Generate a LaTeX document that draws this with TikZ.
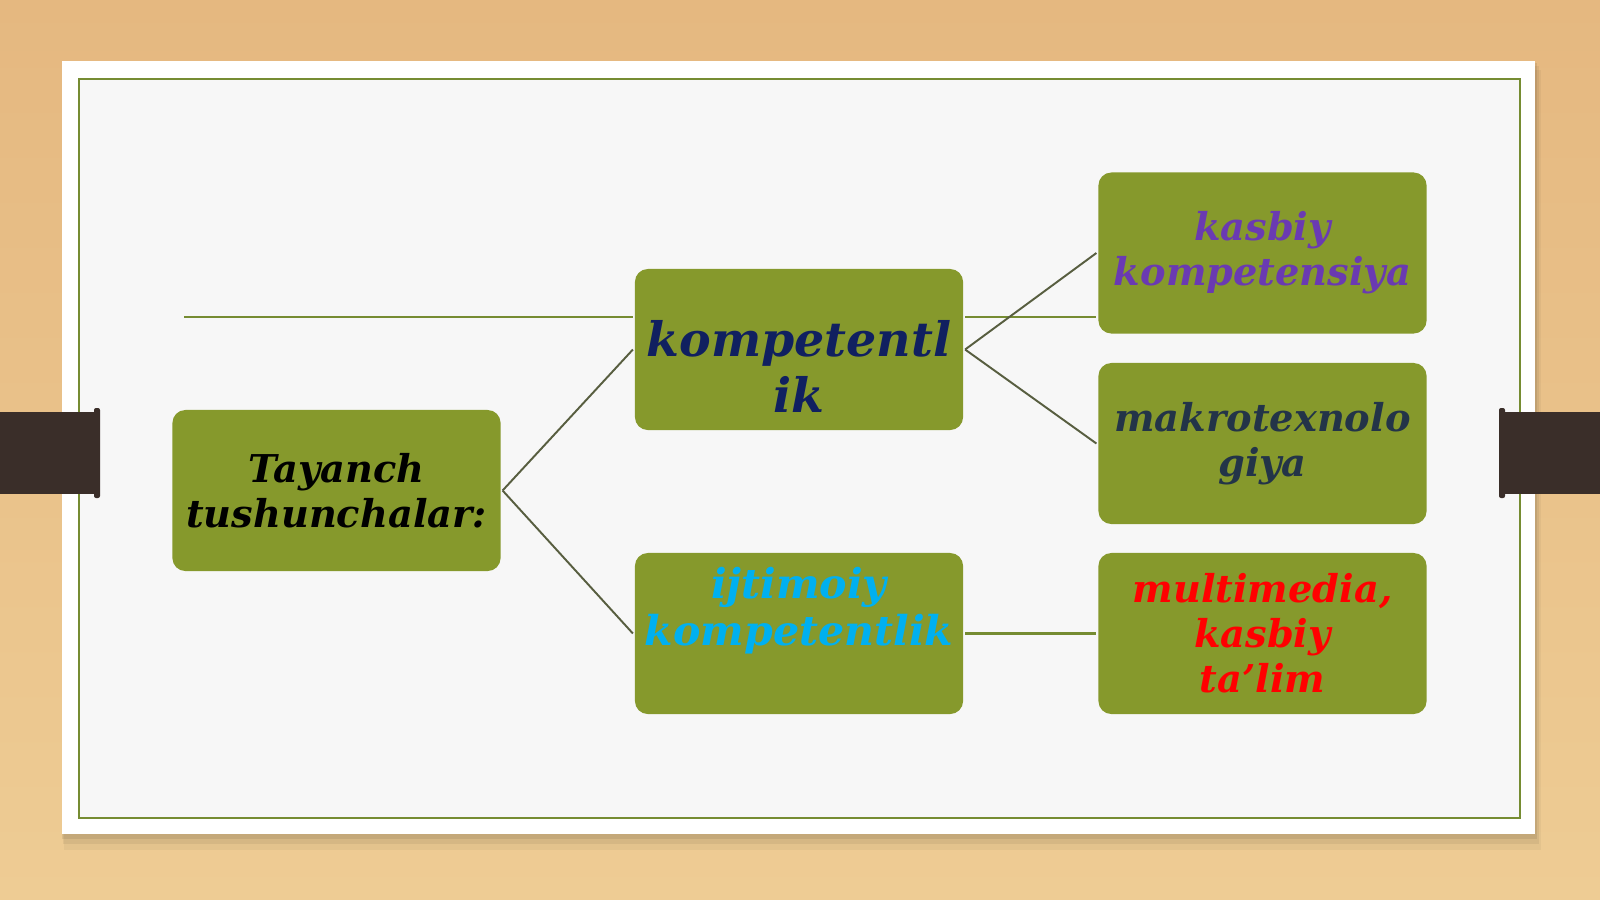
\documentclass[tikz,border=0pt]{standalone}
\usepackage{fontspec}
\newfontfamily\boxfont{DejaVu Serif}
\definecolor{woodtop}{RGB}{229,184,128}
\definecolor{woodbottom}{RGB}{238,204,148}
\definecolor{tabbrown}{RGB}{58,46,41}
\definecolor{framegreen}{RGB}{118,140,50}
\definecolor{boxgreen}{RGB}{134,153,44}
\definecolor{linkgray}{RGB}{88,94,64}
\definecolor{navytext}{RGB}{16,32,96}
\definecolor{cyantext}{RGB}{0,176,240}
\definecolor{purpletext}{RGB}{106,58,178}
\definecolor{slatetext}{RGB}{35,52,72}

\begin{document}
\begin{tikzpicture}[x=0.01cm, y=-0.01cm,
    box/.style={fill=boxgreen, rounded corners=0.13cm, minimum width=3.28cm,
        minimum height=1.61cm, outer sep=0.02cm, align=center,
        font=\boxfont\bfseries\itshape\fontsize{10.9}{12.8}\selectfont},
    link/.style={draw=linkgray, line width=0.55pt},
    hrule/.style={draw=framegreen, line width=0.6pt}]
    \useasboundingbox (0,0) rectangle (1600,899);
    \shade[top color=woodtop, bottom color=woodbottom] (0,0) rectangle (1600,899);
    \fill[black, opacity=0.04] (64,70) rectangle (1541,850);
    \fill[black, opacity=0.06] (63,66) rectangle (1539,844);
    \fill[black, opacity=0.08] (62,63) rectangle (1537,839);
    \fill[white] (62,61) rectangle (1535,834);
    \fill[black!3] (79,79) rectangle (1520,818);
    \draw[framegreen, line width=0.6pt] (79,79) rectangle (1520,818);
    \fill[tabbrown] (0,412) rectangle (99,494);
    \fill[tabbrown, rounded corners=0.02cm] (94,408) rectangle (100,498);
    \fill[tabbrown] (1500,412) rectangle (1600,494);
    \fill[tabbrown, rounded corners=0.02cm] (1499,408) rectangle (1505,498);

    \node[box] (tayanch) at (336.5,490.5) {Tayanch\\tushunchalar:};
    \node[box, label={[font=\boxfont\bfseries\itshape\fontsize{13.5}{15.9}\selectfont,
        text=navytext, align=center, yshift=-0.17cm]center:kompetentl\\ik}] (komp) at (799,349.5) {};
    \node[box, label={[font=\boxfont\bfseries\itshape\fontsize{11.7}{13.4}\selectfont,
        text=cyantext, align=center, yshift=0.23cm]center:ijtimoiy\\kompetentlik}] (ijtimoiy) at (799,633.5) {};
    \node[box, text=purpletext] (kasbiy) at (1262.5,253) {kasbiy\\kompetensiya};
    \node[box, text=slatetext] (makro) at (1262.5,443.5) {makrotexnolo\\giya};
    \node[box, text=red] (multimedia) at (1262.5,633.5) {multimedia,\\kasbiy\\ta’lim};

    \coordinate (hstart) at (184,317);
    \draw[hrule] (hstart) -- (hstart -| komp.west);
    \draw[hrule] (hstart -| komp.east) -- (hstart -| kasbiy.west);
    \draw[hrule] (ijtimoiy.east) -- (multimedia.west);
    \draw[link] (tayanch.east) -- (komp.west);
    \draw[link] (tayanch.east) -- (ijtimoiy.west);
    \draw[link] (komp.east) -- (kasbiy.west);
    \draw[link] (komp.east) -- (makro.west);
\end{tikzpicture}
\end{document}
